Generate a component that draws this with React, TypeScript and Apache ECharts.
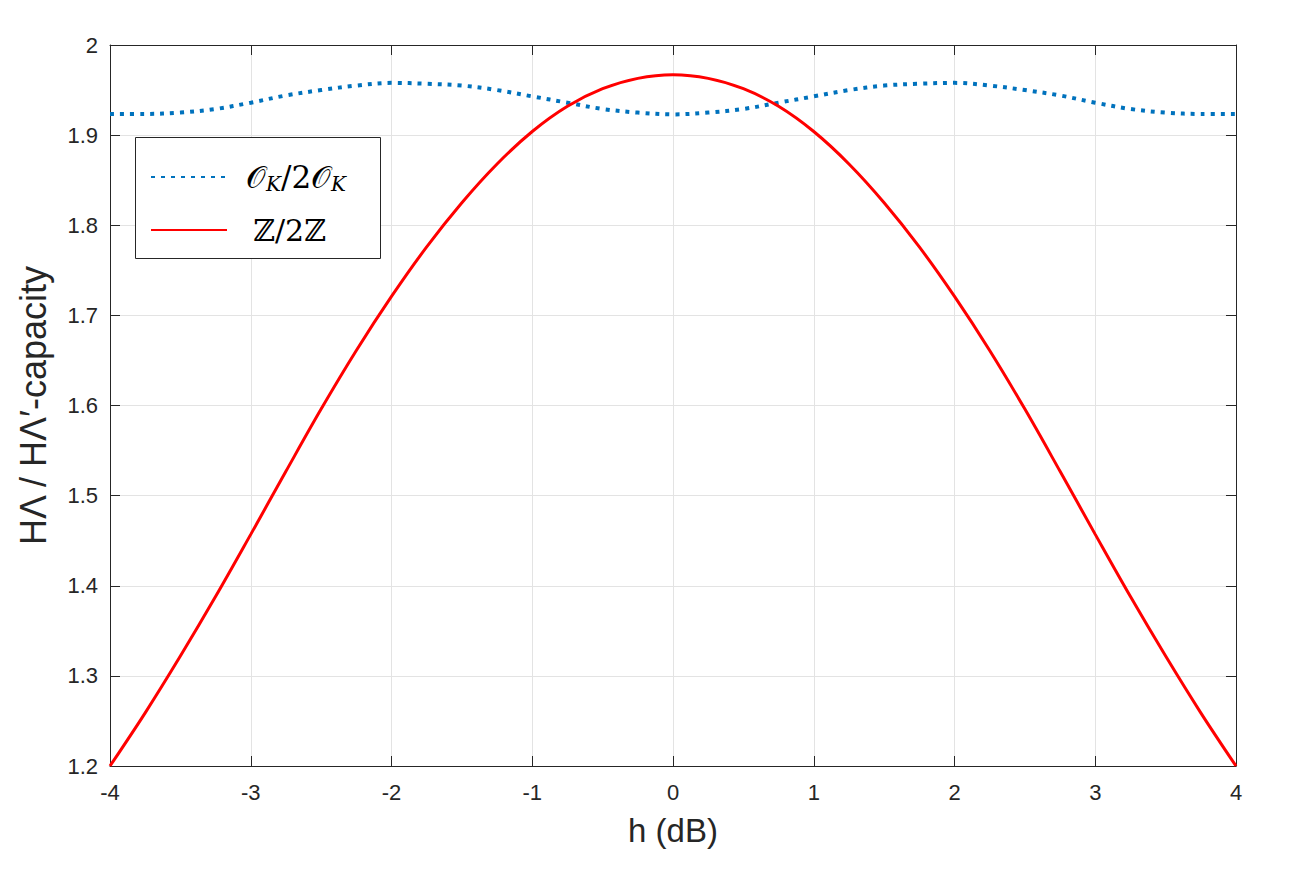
import React, { useEffect, useRef } from "react";
import * as echarts from "echarts";

const hValues = [
  -4, -3.75, -3.5, -3.25, -3, -2.75, -2.5, -2.25, -2, -1.75, -1.5, -1.25, -1, -0.75, -0.5, -0.25,
  0, 0.25, 0.5, 0.75, 1, 1.25, 1.5, 1.75, 2, 2.25, 2.5, 2.75, 3, 3.25, 3.5, 3.75, 4,
];
const okValues = [
  1.9235, 1.9235, 1.925, 1.929, 1.936, 1.944, 1.95, 1.955, 1.958, 1.957, 1.955, 1.95, 1.943, 1.936, 1.929, 1.925,
  1.923, 1.925, 1.929, 1.936, 1.943, 1.95, 1.955, 1.957, 1.958, 1.955, 1.95, 1.944, 1.936, 1.929, 1.925, 1.9235, 1.9235,
];
const zValues = [
  1.2, 1.259, 1.322, 1.388, 1.457, 1.527, 1.596, 1.661, 1.721, 1.776, 1.825, 1.868, 1.904, 1.932, 1.9515, 1.963,
  1.967, 1.963, 1.9515, 1.932, 1.904, 1.868, 1.825, 1.776, 1.721, 1.661, 1.596, 1.527, 1.457, 1.388, 1.322, 1.259, 1.2,
];
const seriesNames = ["OK", "Z"];
const xTicks = { min: -4, max: 4, interval: 1 };
const yTicks = { min: 1.2, max: 2, interval: 0.1 };

const AX = "#262626";
const FONT = "'Liberation Sans', Arial, Helvetica, sans-serif";
const MATH = "'DejaVu Serif', serif";

export default function App() {
  const ref = useRef<HTMLDivElement>(null);
  useEffect(() => {
    if (!ref.current) return;
    const chart = echarts.init(ref.current, null, { renderer: "svg" });
    const pair = (ys: number[]) => hValues.map((x, i) => [x, ys[i]]);
    const tickStyle = { inside: true, length: 10, lineStyle: { color: AX, width: 1 } };
    const axisLine = { show: true, onZero: false, lineStyle: { color: AX, width: 1 } };
    const grid = { show: true, lineStyle: { color: "#e3e3e3", width: 1 } };
    chart.setOption({
      animation: false,
      backgroundColor: "#ffffff",
      grid: { left: 110, right: 60, top: 45, bottom: 118, containLabel: false },
      xAxis: [
        {
          type: "value",
          min: xTicks.min,
          max: xTicks.max,
          interval: xTicks.interval,
          name: "h (dB)",
          nameLocation: "middle",
          nameGap: 48,
          nameTextStyle: { fontFamily: FONT, fontSize: 33, color: AX },
          axisLine,
          axisTick: tickStyle,
          axisLabel: { fontFamily: FONT, fontSize: 22, color: AX, margin: 15 },
          splitLine: grid,
        },
        {
          type: "value",
          position: "top",
          min: xTicks.min,
          max: xTicks.max,
          interval: xTicks.interval,
          axisLine,
          axisTick: tickStyle,
          axisLabel: { show: false },
          splitLine: { show: false },
        },
      ],
      yAxis: [
        {
          type: "value",
          min: yTicks.min,
          max: yTicks.max,
          interval: yTicks.interval,
          name: "HΛ / HΛ′-capacity",
          nameLocation: "middle",
          nameGap: 59,
          nameTextStyle: { fontFamily: FONT, fontSize: 36, color: AX },
          axisLine,
          axisTick: tickStyle,
          axisLabel: {
            fontFamily: FONT,
            fontSize: 22,
            color: AX,
            margin: 12,
            formatter: (v: number) => String(Math.round(v * 10) / 10),
          },
          splitLine: grid,
        },
        {
          type: "value",
          position: "right",
          min: yTicks.min,
          max: yTicks.max,
          interval: yTicks.interval,
          axisLine,
          axisTick: tickStyle,
          axisLabel: { show: false },
          splitLine: { show: false },
        },
      ],
      graphic: {
        elements: [
          {
            type: "rect",
            z: 3,
            shape: { x: 135.5, y: 137.5, width: 245, height: 121 },
            style: { fill: "#ffffff", stroke: AX, lineWidth: 1 },
          },
        ],
      },
      legend: {
        show: true,
        orient: "vertical",
        left: 150,
        top: 160,
        padding: 0,
        itemWidth: 76,
        itemHeight: 14,
        itemGap: 19,
        z: 5,
        itemStyle: { opacity: 0 },
        data: seriesNames,
        formatter: (name: string) =>
          name === "OK" ? "{m|𝒪}{s|K}{m|/2𝒪}{s|K}" : "{z|ℤ/2ℤ}",
        textStyle: {
          padding: [0, 0, 0, 14],
          lineHeight: 34,
          rich: {
            m: { fontFamily: MATH, fontSize: 31, color: "#000", lineHeight: 34 },
            s: { fontFamily: MATH, fontStyle: "italic", fontSize: 20, color: "#000", lineHeight: 16, verticalAlign: "bottom" },
            z: { fontFamily: MATH, fontSize: 30, color: "#000", lineHeight: 34, padding: [0, 0, 0, 7] },
          },
        },
      },
      series: [
        {
          name: seriesNames[0],
          type: "line",
          data: pair(okValues),
          smooth: 0.35,
          showSymbol: false,
          symbol: "none",
          xAxisIndex: 0,
          yAxisIndex: 0,
          lineStyle: { color: "#0072BD", width: 4, type: [4, 6], cap: "butt" },
          itemStyle: { color: "#0072BD" },
        },
        {
          name: seriesNames[1],
          type: "line",
          data: pair(zValues),
          smooth: 0.35,
          showSymbol: false,
          symbol: "none",
          xAxisIndex: 0,
          yAxisIndex: 0,
          lineStyle: { color: "#FF0000", width: 3 },
          itemStyle: { color: "#FF0000" },
        },
      ],
    });
    return () => chart.dispose();
  }, []);
  return (
    <div
      ref={ref}
      style={{ position: "fixed", left: 0, top: 0, width: 1296, height: 884 }}
    />
  );
}
